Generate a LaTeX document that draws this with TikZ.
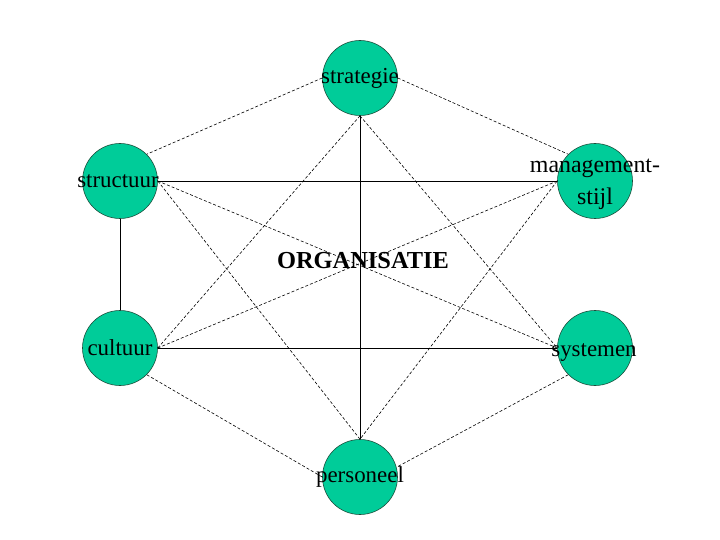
\documentclass[tikz,border=0pt]{standalone}
\usepackage{fontspec}
\setmainfont{Liberation Serif}
\usetikzlibrary{positioning}
\definecolor{bubblefill}{HTML}{00CC99}
\definecolor{bubbleline}{HTML}{1A4D3A}

\begin{document}
\begin{tikzpicture}[x=1bp,y=-1bp,
  bubble/.style={circle, draw=bubbleline, fill=bubblefill, line width=0.6bp,
    minimum size=75bp, inner sep=0pt},
  lbl/.style={font=\fontsize{23}{23}\selectfont, text=black, inner sep=0pt},
  firm/.style={line width=0.8bp},
  loose/.style={line width=0.6bp, dash pattern=on 3bp off 2bp}]
  % Frame
  \useasboundingbox (0,0) rectangle (720,540);

  % Bubbles
  \node[bubble] (strat) at (360,78) {};
  \node[bubble] (struc) at (120,181) {};
  \node[bubble] (mgmt)  at (595,181) {};
  \node[bubble] (cult)  at (120,348) {};
  \node[bubble] (syst)  at (595,348) {};
  \node[bubble] (pers)  at (360,477) {};

  % Solid links
  \draw[firm] (struc.east) -- (mgmt.west);
  \draw[firm] (struc.south) -- (cult.north);
  \draw[firm] (cult.east) -- (syst.west);
  \draw[firm] (strat.south) -- (pers.north);

  % Outer ring
  \draw[loose] (strat.west) -- (struc.45);
  \draw[loose] (strat.east) -- (mgmt.135);
  \draw[loose] (cult.-45) -- (pers.west);
  \draw[loose] (syst.-135) -- (pers.15);

  % Diagonals
  \draw[loose] (strat.south) -- (cult.east);
  \draw[loose] (strat.south) -- (syst.west);
  \draw[loose] (struc.east) -- (syst.west);
  \draw[loose] (struc.east) -- (pers.north);
  \draw[loose] (mgmt.west) -- (cult.east);
  \draw[loose] (mgmt.west) -- (pers.north);

  % Labels
  \node[lbl] (stratlbl) at (strat) {strategie};
  \node[lbl] (struclbl) at ([xshift=-2bp]struc.center) {structuur};
  \node[lbl, align=center, font=\fontsize{24}{32}\selectfont] (mgmtlbl) at (595,184) {management-\\stijl};
  \node[lbl] (cultlbl) at (cult) {cultuur};
  \node[lbl] (systlbl) at ([xshift=-1bp,yshift=-5bp]syst.center) {systemen};
  \node[lbl] (perslbl) at (pers) {personeel};
  \node[lbl, font=\fontsize{24.5}{24.5}\selectfont\bfseries] (org) at (363,261) {ORGANISATIE};
\end{tikzpicture}
\end{document}
